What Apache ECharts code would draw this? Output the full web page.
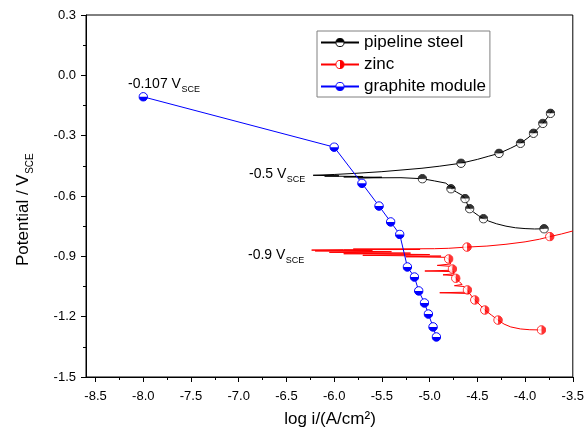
<!DOCTYPE html>
<html>
<head>
<meta charset="utf-8">
<script src="https://cdn.jsdelivr.net/npm/echarts@6/dist/echarts.min.js"></script>
<style>
  html, body { margin: 0; padding: 0; background: #fff; }
  #chart { width: 587px; height: 438px; }
</style>
</head>
<body>
<div id="chart"></div>
<script>
// Tafel polarisation curves: potential vs. log current density

// Axis ticks
const xMajorTicks = [-8.5, -8.0, -7.5, -7.0, -6.5, -6.0, -5.5, -5.0, -4.5, -4.0, -3.5];
const xMinorTicks = [-8.25, -7.75, -7.25, -6.75, -6.25, -5.75, -5.25, -4.75, -4.25, -3.75];

// Pipeline steel: measured curve (cathodic end -> corrosion potential -> anodic end)
const steelCurve = [
  [-3.80, -0.763], [-3.90, -0.764], [-4.00, -0.762], [-4.10, -0.758], [-4.20, -0.750],
  [-4.30, -0.738], [-4.38, -0.725], [-4.436, -0.713], [-4.49, -0.697], [-4.54, -0.680],
  [-4.58, -0.663], [-4.60, -0.648], [-4.61, -0.635], [-4.629, -0.613], [-4.66, -0.596],
  [-4.72, -0.580], [-4.776, -0.564], [-4.74, -0.560], [-4.80, -0.548], [-4.83, -0.536],
  [-4.95, -0.525], [-5.076, -0.514], [-5.30, -0.509], [-5.75, -0.510], [-5.50, -0.507],
  [-5.90, -0.505], [-5.70, -0.503], [-6.10, -0.501], [-5.95, -0.500], [-6.22, -0.497],
  [-6.00, -0.493], [-5.80, -0.488], [-5.50, -0.479], [-5.30, -0.471], [-5.08, -0.462],
  [-4.90, -0.452], [-4.671, -0.437], [-4.50, -0.418], [-4.38, -0.402], [-4.273, -0.388],
  [-4.15, -0.362], [-4.048, -0.338], [-3.97, -0.311], [-3.912, -0.288], [-3.86, -0.262],
  [-3.814, -0.239], [-3.77, -0.212], [-3.734, -0.189], [-3.72, -0.175]
];
const steelMarkX = [-3.734, -3.814, -3.912, -4.048, -4.273, -4.671, -5.076, -4.776, -4.629, -4.580, -4.436, -3.801];
const steelMarkY = [-0.189, -0.239, -0.288, -0.338, -0.388, -0.437, -0.514, -0.564, -0.613, -0.663, -0.713, -0.763];

// Zinc: measured curve (cathodic end -> corrosion potential -> anodic end)
const zincCurve = [
  [-3.828, -1.266], [-3.95, -1.265], [-4.05, -1.261], [-4.15, -1.251], [-4.22, -1.237],
  [-4.283, -1.217], [-4.35, -1.193], [-4.422, -1.167], [-4.47, -1.143], [-4.527, -1.117],
  [-4.56, -1.098], [-4.58, -1.085], [-4.894, -1.081], [-4.59, -1.078], [-4.604, -1.067],
  [-4.64, -1.050], [-4.74, -1.046], [-4.66, -1.040], [-4.69, -1.025], [-4.726, -1.009],
  [-4.74, -0.996], [-4.86, -0.992], [-4.745, -0.987], [-4.75, -0.976], [-5.05, -0.973],
  [-4.757, -0.969], [-4.761, -0.963], [-4.77, -0.950], [-4.92, -0.945], [-4.78, -0.938],
  [-4.79, -0.925], [-4.800, -0.913], [-4.83, -0.905], [-5.25, -0.902], [-4.88, -0.899],
  [-5.70, -0.895], [-5.00, -0.891], [-5.90, -0.887], [-5.20, -0.884], [-6.05, -0.880],
  [-5.40, -0.877], [-6.20, -0.873], [-5.60, -0.871], [-6.236, -0.869], [-5.90, -0.867],
  [-5.10, -0.866], [-5.80, -0.864], [-4.95, -0.862], [-4.80, -0.860], [-4.608, -0.854],
  [-4.40, -0.849], [-4.20, -0.840], [-4.00, -0.828], [-3.85, -0.815], [-3.741, -0.802],
  [-3.62, -0.789], [-3.50, -0.774]
];
const zincMarkX = [-3.741, -4.608, -4.800, -4.761, -4.726, -4.604, -4.527, -4.422, -4.283, -3.828];
const zincMarkY = [-0.802, -0.854, -0.913, -0.963, -1.009, -1.067, -1.117, -1.167, -1.217, -1.266];

// Graphite module: measured points joined by straight segments
const graphiteX = [-8.0, -6.0, -5.709, -5.530, -5.408, -5.313, -5.233, -5.159, -5.114, -5.054, -5.013, -4.964, -4.929];
const graphiteY = [-0.107, -0.357, -0.537, -0.650, -0.729, -0.791, -0.953, -1.003, -1.072, -1.132, -1.187, -1.251, -1.301];

const FONT = "'Liberation Sans', Arial, sans-serif";

// Half-filled circle markers drawn as small SVG images
function halfCircle(color, half) {
  const paths = {
    top: 'M1.5 10 A8.5 8.5 0 0 1 18.5 10 Z',
    bottom: 'M1.5 10 A8.5 8.5 0 0 0 18.5 10 Z',
    right: 'M10 1.5 A8.5 8.5 0 0 1 10 18.5 Z'
  };
  const svg = "<svg xmlns='http://www.w3.org/2000/svg' width='40' height='40' viewBox='0 0 20 20'>" +
    "<circle cx='10' cy='10' r='8.5' fill='white'/>" +
    "<path d='" + paths[half] + "' fill='" + color + "'/>" +
    "<circle cx='10' cy='10' r='8.5' fill='none' stroke='" + color + "' stroke-width='2'/></svg>";
  return 'image://data:image/svg+xml;charset=utf-8,' + encodeURIComponent(svg);
}
const steelIcon = halfCircle('#000000', 'top');
const zincIcon = halfCircle('#ff0000', 'right');
const graphiteIcon = halfCircle('#0000ff', 'bottom');

function zip(xs, ys) { return xs.map((x, i) => [x, ys[i]]); }

// Text with a subscript part (e.g. V with SCE)
const measureCtx = document.createElement('canvas').getContext('2d');
function textWidth(str, size) {
  measureCtx.font = size + 'px ' + FONT;
  return measureCtx.measureText(str).width;
}
function subText(x, y, main, sub, size, subSize, extra) {
  const w = textWidth(main, size);
  return Object.assign({
    type: 'group', x: x, y: y, silent: true,
    children: [
      { type: 'text', x: 0, y: 0, style: { text: main, font: size + 'px ' + FONT, fill: '#000', verticalAlign: 'middle', align: 'left' } },
      { type: 'text', x: w + 0.5, y: size * 0.42, style: { text: sub, font: subSize + 'px ' + FONT, fill: '#000', verticalAlign: 'middle', align: 'left' } }
    ]
  }, extra || {});
}

const chart = echarts.init(document.getElementById('chart'), null, { renderer: 'canvas' });

const axisBase = {
  axisLine: { show: true, onZero: false, lineStyle: { color: '#000', width: 1 } },
  splitLine: { show: false }
};

chart.setOption({
  animation: false,
  backgroundColor: '#fff',
  grid: { left: 86, right: 14, top: 15, bottom: 61, show: true, borderColor: '#000', borderWidth: 1, backgroundColor: 'transparent' },
  xAxis: [
    Object.assign({}, axisBase, {
      type: 'value', min: -8.6, max: -3.5, position: 'bottom',
      axisTick: { show: true, inside: false, length: 5, customValues: xMajorTicks, lineStyle: { color: '#000' } },
      axisLabel: { show: true, customValues: xMajorTicks, margin: 13, fontSize: 13, fontFamily: FONT, color: '#000',
        formatter: v => v.toFixed(1) }
    }),
    Object.assign({}, axisBase, {
      type: 'value', min: -8.6, max: -3.5, position: 'bottom',
      axisLine: { show: false, onZero: false },
      axisTick: { show: true, inside: false, length: 3, customValues: xMinorTicks, lineStyle: { color: '#000' } },
      axisLabel: { show: false }
    })
  ],
  yAxis: [
    Object.assign({}, axisBase, {
      type: 'value', min: -1.5, max: 0.3, interval: 0.3,
      axisTick: { show: true, inside: false, length: 5, lineStyle: { color: '#000' } },
      minorTick: { show: true, splitNumber: 2, length: 3, lineStyle: { color: '#000' } },
      axisLabel: { margin: 10, fontSize: 13, fontFamily: FONT, color: '#000', formatter: v => v.toFixed(1) }
    })
  ],
  legend: {
    data: ['pipeline steel', 'zinc', 'graphite module'],
    orient: 'vertical', left: 317, top: 31,
    padding: [3, 4, 2, 3], itemWidth: 38, itemHeight: 12, itemGap: 5,
    borderColor: '#808080', borderWidth: 1, backgroundColor: '#fff',
    textStyle: { fontSize: 17, fontFamily: FONT, color: '#000' },
    selectedMode: false
  },
  series: [
    {
      name: 'pipeline steel', type: 'line', data: steelCurve, showSymbol: false,
      symbol: steelIcon, symbolSize: 10, itemStyle: { color: '#000' },
      lineStyle: { color: '#000', width: 1 }, z: 2, silent: true
    },
    {
      name: 'pipeline steel points', type: 'scatter', data: zip(steelMarkX, steelMarkY),
      symbol: steelIcon, symbolSize: 10, z: 3, silent: true
    },
    {
      name: 'zinc', type: 'line', data: zincCurve, showSymbol: false,
      symbol: zincIcon, symbolSize: 10, itemStyle: { color: '#ff0000' },
      lineStyle: { color: '#ff0000', width: 1 }, z: 2, silent: true
    },
    {
      name: 'zinc points', type: 'scatter', data: zip(zincMarkX, zincMarkY),
      symbol: zincIcon, symbolSize: 10, z: 3, silent: true
    },
    {
      name: 'graphite module', type: 'line', data: zip(graphiteX, graphiteY), showSymbol: true, showAllSymbol: true,
      symbol: graphiteIcon, symbolSize: 10, itemStyle: { color: '#0000ff' },
      lineStyle: { color: '#0000ff', width: 1 }, z: 4, silent: true
    }
  ],
  graphic: [
    subText(128, 84, '-0.107 V', 'SCE', 14, 9),
    subText(249, 174, '-0.5 V', 'SCE', 14, 9),
    subText(248, 255, '-0.9 V', 'SCE', 14, 9),
    subText(23, 266, 'Potential / V', 'SCE', 17, 10, { rotation: Math.PI / 2 }),
    {
      type: 'text', x: 330, y: 419, silent: true,
      style: { text: 'log i/(A/cm\u00B2)', font: '17px ' + FONT, fill: '#000', align: 'center', verticalAlign: 'middle' }
    }
  ]
});
</script>
</body>
</html>
